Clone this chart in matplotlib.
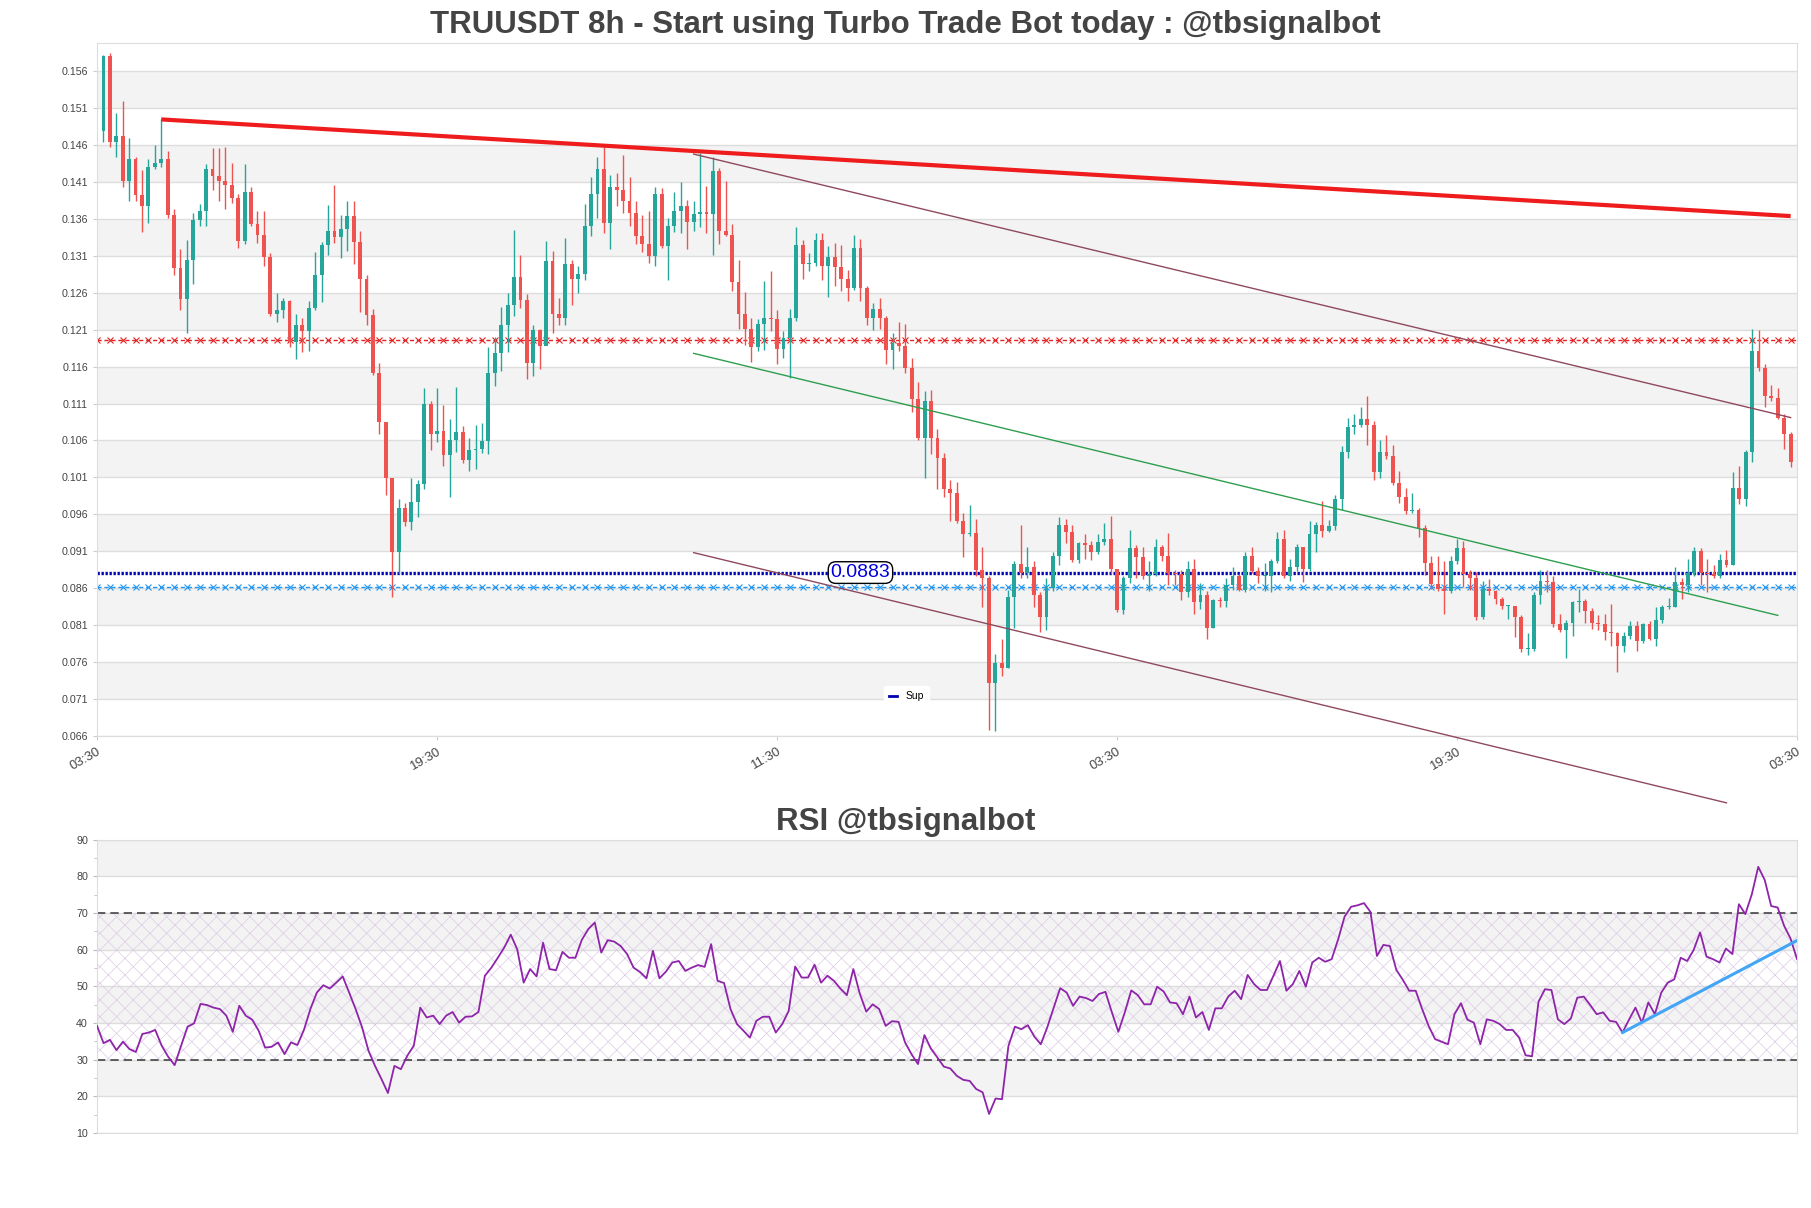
import numpy as np
import matplotlib
matplotlib.use('Agg')
import matplotlib.pyplot as plt
from matplotlib.lines import Line2D

plt.rcParams['font.family'] = ['Liberation Sans', 'DejaVu Sans']
plt.rcParams['hatch.linewidth'] = 0.5

title = "TRUUSDT 8h - Start using Turbo Trade Bot today : @tbsignalbot"
rsi_title = "RSI @tbsignalbot"
x_labels = ['03:30', '19:30', '11:30', '03:30', '19:30', '03:30']

# 8h candles, open of each candle = previous close
first_open = 0.1479
close = [
    0.1581, 0.1464, 0.1473, 0.1412, 0.1441, 0.1393, 0.1377, 0.1431, 0.1436, 0.1442,
    0.1365, 0.1293, 0.1252, 0.1305, 0.1359, 0.1371, 0.1428, 0.1418, 0.1412, 0.1406,
    0.1388, 0.1330, 0.1396, 0.1353, 0.1338, 0.1308, 0.1232, 0.1237, 0.1249, 0.1194,
    0.1217, 0.1208, 0.1240, 0.1284, 0.1325, 0.1344, 0.1336, 0.1347, 0.1364, 0.1329,
    0.1279, 0.1230, 0.1152, 0.1085, 0.1009, 0.0909, 0.0969, 0.0950, 0.0977, 0.1001,
    0.1110, 0.1069, 0.1073, 0.1040, 0.1061, 0.1071, 0.1034, 0.1047, 0.1048, 0.1059,
    0.1151, 0.1178, 0.1216, 0.1244, 0.1281, 0.1250, 0.1165, 0.1209, 0.1188, 0.1303,
    0.1232, 0.1226, 0.1299, 0.1279, 0.1286, 0.1351, 0.1394, 0.1428, 0.1354, 0.1403,
    0.1400, 0.1385, 0.1368, 0.1337, 0.1326, 0.1310, 0.1394, 0.1324, 0.1350, 0.1371,
    0.1377, 0.1356, 0.1367, 0.1370, 0.1367, 0.1425, 0.1344, 0.1339, 0.1275, 0.1232,
    0.1211, 0.1187, 0.1218, 0.1226, 0.1225, 0.1184, 0.1199, 0.1226, 0.1325, 0.1299,
    0.1301, 0.1332, 0.1297, 0.1309, 0.1295, 0.1279, 0.1267, 0.1321, 0.1267, 0.1226,
    0.1238, 0.1226, 0.1182, 0.1192, 0.1188, 0.1158, 0.1116, 0.1063, 0.1113, 0.1063,
    0.1036, 0.0994, 0.0989, 0.0951, 0.0933, 0.0934, 0.0885, 0.0873, 0.0731, 0.0758,
    0.0752, 0.0848, 0.0892, 0.0880, 0.0889, 0.0850, 0.0821, 0.0860, 0.0903, 0.0945,
    0.0936, 0.0898, 0.0921, 0.0918, 0.0909, 0.0922, 0.0927, 0.0886, 0.0830, 0.0873,
    0.0914, 0.0902, 0.0876, 0.0879, 0.0915, 0.0903, 0.0880, 0.0879, 0.0854, 0.0886,
    0.0841, 0.0851, 0.0806, 0.0844, 0.0843, 0.0864, 0.0876, 0.0858, 0.0904, 0.0883,
    0.0876, 0.0877, 0.0896, 0.0927, 0.0876, 0.0889, 0.0915, 0.0886, 0.0933, 0.0945,
    0.0937, 0.0944, 0.0980, 0.1045, 0.1078, 0.1081, 0.1089, 0.1081, 0.1017, 0.1045,
    0.1039, 0.1002, 0.0984, 0.0964, 0.0966, 0.0941, 0.0894, 0.0865, 0.0859, 0.0856,
    0.0897, 0.0914, 0.0879, 0.0873, 0.0821, 0.0859, 0.0856, 0.0845, 0.0836, 0.0836,
    0.0821, 0.0777, 0.0778, 0.0851, 0.0870, 0.0868, 0.0811, 0.0803, 0.0813, 0.0841,
    0.0842, 0.0829, 0.0813, 0.0811, 0.0801, 0.0799, 0.0782, 0.0795, 0.0809, 0.0788,
    0.0811, 0.0791, 0.0817, 0.0834, 0.0835, 0.0868, 0.0864, 0.0880, 0.0910, 0.0880,
    0.0879, 0.0876, 0.0898, 0.0891, 0.0995, 0.0981, 0.1045, 0.1181, 0.1158, 0.1120,
    0.1117, 0.1091, 0.1069, 0.1031,
]
high = [
    0.1582, 0.1585, 0.1504, 0.1520, 0.1470, 0.1444, 0.1426, 0.1442, 0.1460, 0.1495,
    0.1452, 0.1373, 0.1319, 0.1331, 0.1368, 0.1380, 0.1435, 0.1456, 0.1456, 0.1458,
    0.1436, 0.1394, 0.1435, 0.1403, 0.1371, 0.1371, 0.1314, 0.1260, 0.1253, 0.1250,
    0.1232, 0.1226, 0.1249, 0.1315, 0.1329, 0.1379, 0.1406, 0.1365, 0.1384, 0.1384,
    0.1344, 0.1284, 0.1238, 0.1165, 0.1085, 0.1009, 0.0981, 0.0975, 0.1009, 0.1007,
    0.1131, 0.1114, 0.1131, 0.1108, 0.1089, 0.1133, 0.1079, 0.1063, 0.1081, 0.1083,
    0.1186, 0.1200, 0.1241, 0.1260, 0.1345, 0.1311, 0.1258, 0.1217, 0.1211, 0.1330,
    0.1317, 0.1253, 0.1334, 0.1305, 0.1296, 0.1380, 0.1417, 0.1444, 0.1458, 0.1420,
    0.1423, 0.1447, 0.1417, 0.1384, 0.1365, 0.1371, 0.1403, 0.1402, 0.1362, 0.1396,
    0.1410, 0.1386, 0.1385, 0.1450, 0.1405, 0.1444, 0.1429, 0.1412, 0.1353, 0.1305,
    0.1261, 0.1226, 0.1224, 0.1276, 0.1290, 0.1237, 0.1208, 0.1238, 0.1349, 0.1332,
    0.1314, 0.1341, 0.1341, 0.1323, 0.1327, 0.1325, 0.1291, 0.1338, 0.1333, 0.1269,
    0.1246, 0.1253, 0.1228, 0.1205, 0.1220, 0.1218, 0.1172, 0.1139, 0.1127, 0.1129,
    0.1075, 0.1043, 0.1006, 0.1004, 0.0962, 0.0972, 0.0954, 0.0916, 0.0876, 0.0770,
    0.0791, 0.0858, 0.0897, 0.0945, 0.0915, 0.0897, 0.0854, 0.0874, 0.0909, 0.0956,
    0.0954, 0.0945, 0.0922, 0.0933, 0.0924, 0.0933, 0.0948, 0.0957, 0.0886, 0.0876,
    0.0939, 0.0918, 0.0915, 0.0897, 0.0926, 0.0918, 0.0935, 0.0885, 0.0885, 0.0896,
    0.0900, 0.0867, 0.0856, 0.0845, 0.0848, 0.0874, 0.0888, 0.0879, 0.0909, 0.0916,
    0.0888, 0.0894, 0.0900, 0.0936, 0.0939, 0.0900, 0.0920, 0.0916, 0.0951, 0.0950,
    0.0978, 0.0952, 0.0986, 0.1053, 0.1091, 0.1096, 0.1105, 0.1120, 0.1087, 0.1060,
    0.1067, 0.1054, 0.1018, 0.0995, 0.0989, 0.0969, 0.0945, 0.0903, 0.0903, 0.0897,
    0.0903, 0.0927, 0.0924, 0.0885, 0.0882, 0.0870, 0.0872, 0.0858, 0.0848, 0.0837,
    0.0836, 0.0823, 0.0799, 0.0854, 0.0885, 0.0885, 0.0876, 0.0825, 0.0817, 0.0842,
    0.0859, 0.0845, 0.0833, 0.0824, 0.0825, 0.0838, 0.0801, 0.0801, 0.0815, 0.0815,
    0.0813, 0.0815, 0.0835, 0.0837, 0.0847, 0.0888, 0.0873, 0.0900, 0.0915, 0.0914,
    0.0900, 0.0891, 0.0906, 0.0912, 0.1017, 0.1025, 0.1047, 0.1211, 0.1210, 0.1163,
    0.1135, 0.1131, 0.1096, 0.1072,
]
low = [
    0.1464, 0.1458, 0.1444, 0.1403, 0.1384, 0.1385, 0.1343, 0.1355, 0.1428, 0.1431,
    0.1361, 0.1284, 0.1237, 0.1206, 0.1272, 0.1350, 0.1351, 0.1399, 0.1384, 0.1374,
    0.1382, 0.1321, 0.1326, 0.1350, 0.1327, 0.1297, 0.1228, 0.1220, 0.1226, 0.1186,
    0.1170, 0.1180, 0.1181, 0.1237, 0.1247, 0.1311, 0.1327, 0.1307, 0.1317, 0.1299,
    0.1234, 0.1216, 0.1149, 0.1069, 0.0986, 0.0848, 0.0879, 0.0944, 0.0938, 0.0956,
    0.0994, 0.1047, 0.1058, 0.1026, 0.0983, 0.1045, 0.1029, 0.1019, 0.1021, 0.1043,
    0.1042, 0.1134, 0.1154, 0.1180, 0.1228, 0.1240, 0.1143, 0.1148, 0.1157, 0.1190,
    0.1206, 0.1216, 0.1217, 0.1244, 0.1260, 0.1278, 0.1337, 0.1362, 0.1341, 0.1320,
    0.1377, 0.1368, 0.1351, 0.1326, 0.1315, 0.1301, 0.1296, 0.1321, 0.1278, 0.1343,
    0.1341, 0.1319, 0.1344, 0.1349, 0.1341, 0.1311, 0.1326, 0.1337, 0.1263, 0.1211,
    0.1189, 0.1166, 0.1181, 0.1183, 0.1208, 0.1164, 0.1172, 0.1145, 0.1222, 0.1279,
    0.1289, 0.1296, 0.1278, 0.1255, 0.1269, 0.1263, 0.1249, 0.1264, 0.1249, 0.1217,
    0.1210, 0.1211, 0.1164, 0.1157, 0.1181, 0.1152, 0.1099, 0.1061, 0.1009, 0.1042,
    0.0994, 0.0984, 0.0951, 0.0948, 0.0902, 0.0930, 0.0876, 0.0835, 0.0668, 0.0667,
    0.0741, 0.0752, 0.0806, 0.0873, 0.0873, 0.0835, 0.0801, 0.0803, 0.0856, 0.0891,
    0.0921, 0.0895, 0.0894, 0.0900, 0.0898, 0.0906, 0.0918, 0.0879, 0.0827, 0.0825,
    0.0867, 0.0874, 0.0872, 0.0856, 0.0876, 0.0897, 0.0864, 0.0864, 0.0844, 0.0848,
    0.0825, 0.0832, 0.0791, 0.0806, 0.0835, 0.0835, 0.0857, 0.0856, 0.0854, 0.0880,
    0.0867, 0.0856, 0.0854, 0.0894, 0.0873, 0.0870, 0.0883, 0.0868, 0.0883, 0.0909,
    0.0929, 0.0936, 0.0939, 0.0966, 0.1036, 0.1069, 0.1078, 0.1054, 0.1006, 0.1009,
    0.1035, 0.0999, 0.0975, 0.0960, 0.0962, 0.0929, 0.0878, 0.0859, 0.0856, 0.0825,
    0.0853, 0.0892, 0.0862, 0.0858, 0.0817, 0.0818, 0.0851, 0.0839, 0.0832, 0.0818,
    0.0794, 0.0773, 0.0769, 0.0775, 0.0838, 0.0854, 0.0807, 0.0800, 0.0765, 0.0795,
    0.0827, 0.0812, 0.0805, 0.0803, 0.0789, 0.0782, 0.0746, 0.0773, 0.0791, 0.0775,
    0.0785, 0.0789, 0.0782, 0.0812, 0.0831, 0.0835, 0.0845, 0.0854, 0.0877, 0.0864,
    0.0854, 0.0874, 0.0874, 0.0888, 0.0891, 0.0974, 0.0971, 0.1031, 0.1154, 0.1105,
    0.1114, 0.1089, 0.1048, 0.1024,
]
rsi = [
    39.2, 34.5, 35.4, 32.6, 34.9, 32.9, 32.1, 37.0, 37.4, 38.1,
    33.8, 30.8, 28.5, 33.8, 39.0, 39.9, 45.2, 44.9, 44.2, 43.8,
    42.0, 37.6, 44.7, 42.0, 40.9, 37.9, 33.3, 33.5, 34.7, 31.5,
    34.7, 34.0, 38.1, 43.8, 48.3, 50.3, 49.4, 51.0, 52.7, 48.3,
    43.8, 38.8, 32.4, 28.3, 24.7, 20.9, 28.3, 27.4, 31.1, 33.8,
    44.2, 41.5, 42.0, 39.7, 42.0, 43.0, 40.1, 41.7, 41.8, 43.0,
    52.9, 55.1, 57.8, 60.6, 64.1, 60.1, 51.0, 54.7, 52.7, 61.9,
    54.7, 54.4, 59.4, 57.8, 57.8, 62.7, 65.6, 67.4, 59.2, 62.6,
    62.2, 61.0, 58.8, 55.1, 53.9, 52.2, 59.7, 52.2, 54.0, 56.5,
    56.9, 54.2, 55.1, 55.8, 55.3, 61.5, 51.5, 50.9, 43.8, 39.7,
    37.9, 36.0, 40.6, 41.7, 41.7, 37.4, 39.7, 43.3, 55.4, 52.4,
    52.4, 55.9, 51.0, 52.9, 51.5, 49.4, 47.6, 54.7, 48.0, 43.1,
    45.1, 43.8, 39.2, 40.5, 40.3, 34.7, 31.5, 28.8, 36.7, 33.0,
    30.6, 28.1, 27.6, 25.6, 24.5, 24.2, 22.0, 21.1, 15.2, 19.4,
    19.2, 33.8, 39.0, 38.3, 39.4, 36.3, 34.2, 38.8, 44.2, 49.5,
    48.3, 44.7, 47.2, 46.8, 46.0, 47.9, 48.5, 42.9, 37.6, 42.9,
    48.9, 47.6, 45.1, 45.1, 49.9, 48.6, 45.6, 45.4, 42.4, 47.2,
    41.5, 43.0, 38.1, 44.0, 44.0, 47.2, 48.8, 46.5, 53.1, 50.6,
    49.0, 49.0, 52.9, 56.9, 48.8, 50.6, 54.2, 49.9, 56.5, 57.8,
    56.7, 57.4, 62.8, 69.0, 71.7, 72.1, 72.7, 70.3, 58.3, 61.3,
    61.0, 54.5, 51.8, 48.8, 48.8, 43.8, 39.2, 35.6, 34.9, 34.2,
    42.4, 45.4, 40.9, 40.1, 34.2, 41.0, 40.6, 39.7, 38.1, 38.1,
    36.0, 31.2, 30.9, 45.8, 49.2, 49.0, 41.0, 39.7, 41.2, 46.9,
    47.2, 44.9, 42.4, 42.9, 40.6, 40.3, 37.4, 40.9, 44.2, 40.1,
    45.6, 42.4, 48.3, 51.0, 51.9, 57.8, 56.9, 59.9, 64.7, 58.1,
    57.4, 56.5, 60.3, 58.8, 72.4, 69.7, 75.1, 82.6, 79.0, 71.9,
    71.5, 66.5, 63.0, 57.4,
]

res_level = 0.1196
sup_level = 0.0881
sup_text = '0.0883'
sup2_level = 0.0862

# trend lines as (candle index, price) pairs
top_trend = ([9, 263], [0.1495, 0.1364])
upper_channel = ([92, 263], [0.1448, 0.1091])
mid_channel = ([92, 261], [0.1178, 0.0823])
lower_channel = ([92, 253], [0.0908, 0.0569])
rsi_trend = ([236, 263], [37.4, 62.5])

green = '#26a69a'
red = '#ef5350'
band = '#f3f3f3'
grid = '#dddddd'
txt = '#444444'

close = np.array(close)
high = np.array(high)
low = np.array(low)
n = len(close)
x = np.arange(n)
opens = np.r_[first_open, close[:-1]]
cols = np.where(close >= opens, green, red)

fig = plt.figure(figsize=(18.11, 12.08), dpi=100)
ax = fig.add_axes([0.0536, 0.391, 0.9387, 0.5737])
ax2 = fig.add_axes([0.0536, 0.0621, 0.9387, 0.2428])

# ---- price panel
yt = np.arange(0.066, 0.1565, 0.005)
for i in range(len(yt) - 1):
    if (len(yt) - 2 - i) % 2 == 0:
        ax.axhspan(yt[i], yt[i + 1], color=band, lw=0, zorder=0)
for v in yt:
    ax.axhline(v, color=grid, lw=1, zorder=0.5)

ax.vlines(x, low, high, colors=cols, lw=1, zorder=3)
body = np.maximum(np.abs(close - opens), 0.00015)
ax.bar(x, body, bottom=np.minimum(opens, close), width=0.6, color=cols, lw=0, zorder=4)

xs = np.arange(-1, n + 1)
ax.plot(xs, np.full(len(xs), res_level), color='#e52222', lw=1, ls=(0, (3, 2)),
        marker='x', ms=5, mew=0.8, markevery=2, zorder=2)
ax.plot(xs, np.full(len(xs), sup2_level), color='#2196f3', lw=1, ls=(0, (3, 2)),
        marker='x', ms=5, mew=0.8, markevery=2, zorder=2)
ax.plot([-1, n], [sup_level, sup_level], color='#0000b4', lw=2.4, ls=(0, (0.7, 0.5)), zorder=2)
ax.text(118, sup_level, sup_text, ha='center', va='center', fontsize=14, color='#0000dd', zorder=6,
        bbox=dict(boxstyle='round,pad=0.12,rounding_size=0.4', fc='white', ec='black', lw=1))

ax.plot(*top_trend, color='#ee1c1c', lw=3, zorder=5, solid_capstyle='butt')
ax.plot(*upper_channel, color='#8e4a5c', lw=1, zorder=5)
ax.plot(*mid_channel, color='#2e9e4e', lw=1, zorder=5)
ax.plot(*lower_channel, color='#8e4a5c', lw=1, zorder=5, clip_on=False)

ax.legend(handles=[Line2D([], [], color='#0000b4', lw=2)], labels=['Sup'], loc='center',
          bbox_to_anchor=(0.476, 0.057), fontsize=7.5, frameon=True, framealpha=1,
          edgecolor='white', facecolor='white', handlelength=0.8, borderpad=0.5)

ax.set_xlim(-1, n)
ax.set_ylim(0.066, 0.1599)
ax.set_yticks(yt)
ax.set_yticklabels(['%.3f' % v for v in yt])
ax.set_xticks(np.linspace(-1, n, 6))
ax.set_xticklabels(x_labels, rotation=30, ha='right', va='top', rotation_mode='anchor')
ax.tick_params(axis='y', labelsize=7.7, labelcolor=txt, color='#cccccc', length=3)
ax.tick_params(axis='x', labelsize=9.5, labelcolor=txt, color='#cccccc', length=3, pad=4)
for s in ax.spines.values():
    s.set_color(grid)

# ---- RSI panel
rt = np.arange(10, 91, 10)
for lo_ in (20, 40, 60, 80):
    ax2.axhspan(lo_, lo_ + 10, color=band, lw=0, zorder=0)
for v in rt:
    ax2.axhline(v, color=grid, lw=1, zorder=0.5)
ax2.fill_between([0, n - 1], 30, 70, facecolor='none', edgecolor='#dccbe6',
                 hatch='xx', lw=0, zorder=1)
ax2.axhline(70, color='#444444', lw=1.2, ls=(0, (5, 3)), zorder=2)
ax2.axhline(30, color='#444444', lw=1.2, ls=(0, (5, 3)), zorder=2)
ax2.plot(np.arange(len(rsi)), rsi, color='#8e24aa', lw=1.3, zorder=3)
ax2.plot(*rsi_trend, color='#42a5f5', lw=2.2, zorder=4)

ax2.set_xlim(0, n - 1)
ax2.set_ylim(10, 90)
ax2.set_yticks(rt)
ax2.set_yticks(np.arange(15, 90, 10), minor=True)
ax2.set_xticks([])
ax2.tick_params(axis='y', labelsize=7.7, labelcolor=txt, color='#bbbbbb', length=3)
ax2.tick_params(axis='y', which='minor', length=2, color='#bbbbbb')
for s in ax2.spines.values():
    s.set_color(grid)

fig.text(0.5, 1 - 25 / 1208, title, ha='center', va='center', fontsize=22.5,
         fontweight='bold', color=txt)
fig.text(0.5, 1 - 822 / 1208, rsi_title, ha='center', va='center', fontsize=22.5,
         fontweight='bold', color=txt)

fig.savefig('out.png', dpi=100, facecolor='white')
